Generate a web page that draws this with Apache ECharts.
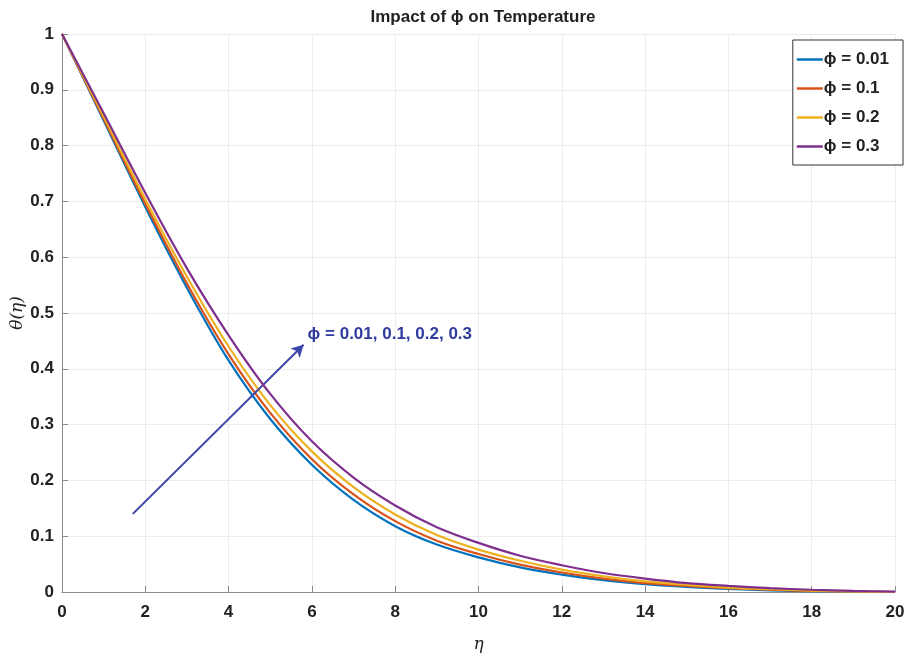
<!DOCTYPE html>
<html>
<head>
<meta charset="utf-8">
<script src="https://cdn.jsdelivr.net/npm/echarts@6/dist/echarts.min.js"></script>
<style>
html,body{margin:0;padding:0;background:#fff;}
#chart{width:909px;height:660px;}
</style>
</head>
<body>
<div id="chart"></div>
<script>
const eta = [0,1,2,3,4,5,6,7,8,9,10,11,12,13,14,15,16,17,18,19,20];
const theta001 = [1,0.845,0.69,0.545,0.415,0.31,0.228,0.165,0.118,0.085,0.062,0.044,0.031,0.021,0.014,0.009,0.0055,0.003,0.0015,0.0006,0];
const theta01  = [1,0.848,0.696,0.553,0.426,0.321,0.238,0.175,0.127,0.092,0.068,0.049,0.035,0.024,0.016,0.011,0.007,0.004,0.002,0.001,0];
const theta02  = [1,0.852,0.704,0.565,0.44,0.335,0.252,0.188,0.139,0.102,0.076,0.056,0.04,0.028,0.019,0.013,0.008,0.005,0.0025,0.001,0];
const theta03  = [1,0.858,0.715,0.58,0.46,0.355,0.27,0.205,0.155,0.116,0.088,0.065,0.048,0.034,0.024,0.016,0.011,0.007,0.004,0.002,0.0005];
const seriesNames = ['\u03D5 = 0.01','\u03D5 = 0.1','\u03D5 = 0.2','\u03D5 = 0.3'];
const arrowStart = [1.7, 0.14];
const arrowEnd = [5.8, 0.443];
const annotationText = '\u03D5 = 0.01, 0.1, 0.2, 0.3';
const titleText = 'Impact of \u03D5 on Temperature';
const yName = '\u03B8(\u03B7)';
const xName = '\u03B7';

const FONT = "'Liberation Sans Narrow','Liberation Sans',Arial,sans-serif";
const colors = ['#0072BD','#D95319','#EDB120','#7E2F8E'];
const allData = [theta001, theta01, theta02, theta03];

const chart = echarts.init(document.getElementById('chart'));
const series = allData.map((d, i) => ({
  name: seriesNames[i],
  type: 'line',
  data: eta.map((x, j) => [x, d[j]]),
  smooth: 0.35,
  showSymbol: false,
  symbol: 'none',
  lineStyle: {width: 2.2, color: colors[i]},
  itemStyle: {color: colors[i]},
  z: 2 + i
}));
series.push({
  type: 'line',
  data: [],
  silent: true,
  markLine: {
    silent: true,
    symbol: ['none', 'arrow'],
    symbolSize: [10, 12],
    lineStyle: {color: '#3a46a8', width: 2, type: 'solid', opacity: 1},
    label: {show: false},
    data: [[{coord: arrowStart}, {coord: arrowEnd}]]
  }
});

chart.setOption({
  animation: false,
  backgroundColor: '#fff',
  title: {
    text: titleText,
    left: 478,
    textAlign: 'center',
    top: 4,
    textStyle: {fontFamily: FONT, fontWeight: 'bold', fontSize: 17, color: '#222'}
  },
  legend: {
    data: seriesNames,
    orient: 'vertical',
    right: 6,
    top: 40,
    icon: 'rect',
    itemWidth: 26,
    itemHeight: 2.5,
    itemGap: 12,
    padding: [11, 14, 10, 4],
    borderColor: '#333',
    borderWidth: 1,
    backgroundColor: '#fff',
    textStyle: {fontFamily: FONT, fontWeight: 'bold', fontSize: 17, color: '#222', padding: [0,0,0,-4]}
  },
  grid: {left: 62, right: 14, top: 34, bottom: 68, containLabel: false, outerBoundsMode: 'none'},
  xAxis: {
    type: 'value',
    min: 0, max: 20, interval: 2,
    name: xName,
    nameLocation: 'middle',
    nameGap: 44,
    nameTextStyle: {fontFamily: 'DejaVu Serif, serif', fontStyle: 'italic', fontSize: 17, color: '#222'},
    axisLine: {show: true, lineStyle: {color: '#8a8a8a', width: 1}},
    axisTick: {show: true, inside: true, length: 6, lineStyle: {color: '#8a8a8a'}},
    axisLabel: {fontFamily: FONT, fontWeight: 'bold', fontSize: 17, color: '#222', margin: 12},
    splitLine: {show: true, lineStyle: {color: '#ececec', width: 1}}
  },
  yAxis: {
    type: 'value',
    min: 0, max: 1, interval: 0.1,
    axisLine: {show: true, lineStyle: {color: '#8a8a8a', width: 1}},
    axisTick: {show: true, inside: true, length: 6, lineStyle: {color: '#8a8a8a'}},
    axisLabel: {
      fontFamily: FONT, fontWeight: 'bold', fontSize: 17, color: '#222', margin: 8,
      formatter: v => (v === 0 ? '0' : (Math.abs(v - 1) < 1e-9 ? '1' : v.toFixed(1)))
    },
    splitLine: {show: true, lineStyle: {color: '#ececec', width: 1}}
  },
  series: series
});

const p = chart.convertToPixel({gridIndex: 0}, arrowEnd);
const yMid = chart.convertToPixel({gridIndex: 0}, [0, 0.5]);
chart.setOption({
  graphic: [{
    type: 'text',
    left: p[0] + 4,
    top: p[1] - 19,
    silent: true,
    style: {
      text: annotationText,
      fill: '#2f3c9e',
      fontFamily: FONT,
      fontWeight: 'bold',
      fontSize: 17
    }
  }, {
    type: 'text',
    x: 18,
    y: yMid[1],
    rotation: Math.PI / 2,
    silent: true,
    style: {
      text: yName,
      fill: '#222',
      fontFamily: 'DejaVu Serif, serif',
      fontStyle: 'italic',
      fontSize: 17,
      align: 'center',
      verticalAlign: 'middle'
    }
  }]
});
</script>
</body>
</html>
